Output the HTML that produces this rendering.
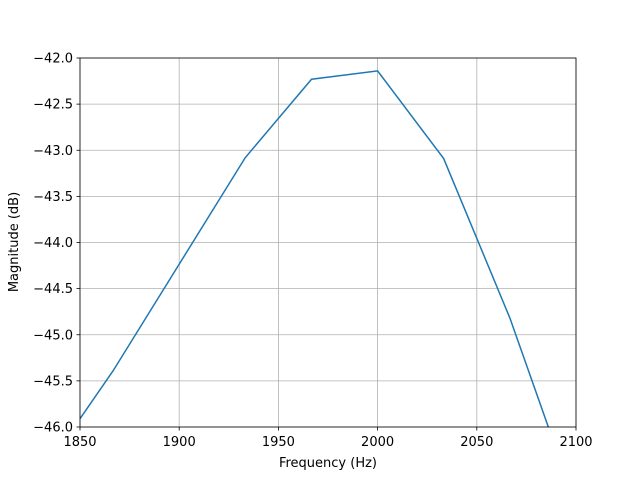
<!DOCTYPE html>
<html><head><meta charset="utf-8"><style>
body{margin:0;background:#fff;font-family:"DejaVu Sans","Liberation Sans",sans-serif;}
</style></head><body>
<svg width="640" height="480" viewBox="0 0 640 480">
<defs><clipPath id="c"><rect x="80" y="58" width="496" height="369"/></clipPath></defs>
<g id="grid"></g>
<g id="ticks" font-size="13" fill="#000"></g>
<polyline id="line" fill="none" stroke="#1f77b4" stroke-width="1.5" clip-path="url(#c)"/>
<rect x="80" y="58" width="496" height="369" fill="none" stroke="#000" stroke-width="0.8"/>
<text x="328" y="467" font-size="13" text-anchor="middle">Frequency (Hz)</text>
<text x="18" y="242" font-size="13" text-anchor="middle" transform="rotate(-90 18 242)">Magnitude (dB)</text>
</svg>
<script>
const freqs=[1850,1866.7,1933.3,1966.7,2000,2033.3,2066.7,2100];
const mags=[-45.91,-45.39,-43.08,-42.23,-42.14,-43.09,-44.82,-46.85];
const xTicks=[1850,1900,1950,2000,2050,2100];
const yTicks=[-42.0,-42.5,-43.0,-43.5,-44.0,-44.5,-45.0,-45.5,-46.0];
const X=v=>80+(v-1850)/250*496;
const Y=v=>58+(-42-v)/4*369;
const ns="http://www.w3.org/2000/svg";
const g=document.getElementById('grid'),t=document.getElementById('ticks');
function mk(tag,attrs,parent){const e=document.createElementNS(ns,tag);for(const k in attrs)e.setAttribute(k,attrs[k]);parent.appendChild(e);return e;}
xTicks.forEach(v=>{const x=X(v);
const l=mk('line',{x1:x,x2:x,y1:58,y2:427,stroke:'#b0b0b0','stroke-width':0.8},g);


mk('line',{x1:x,x2:x,y1:427,y2:430.5,stroke:'#000','stroke-width':0.8},t);
const tx=mk('text',{x:x,y:446,'text-anchor':'middle'},t);tx.textContent=v;

});
yTicks.forEach(v=>{const y=Y(v);
const l=mk('line',{x1:80,x2:576,y1:y,y2:y,stroke:'#b0b0b0','stroke-width':0.8},g);


mk('line',{x1:76.5,x2:80,y1:y,y2:y,stroke:'#000','stroke-width':0.8},t);
const tx=mk('text',{x:73,y:y+4.5,'text-anchor':'end'},t);tx.textContent='\u2212'+Math.abs(v).toFixed(1);

});
document.getElementById('line').setAttribute('points',freqs.map((f,i)=>X(f)+','+Y(mags[i])).join(' '));
</script>
</body></html>
